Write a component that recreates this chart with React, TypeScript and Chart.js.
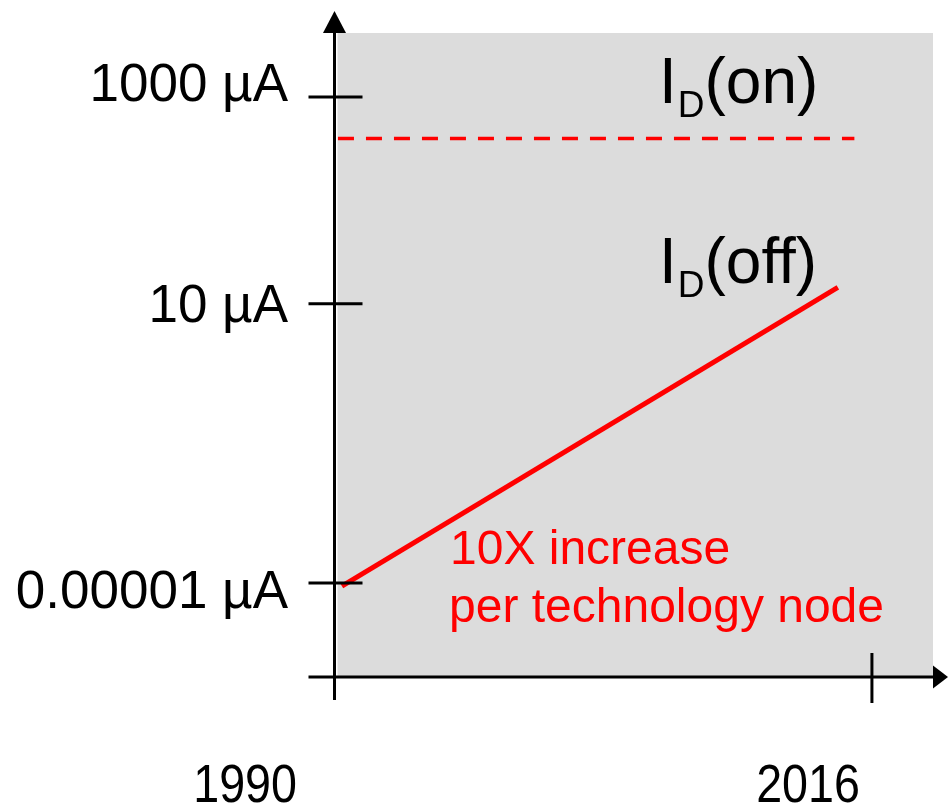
import React, { useEffect, useRef } from "react";
import { Chart, registerables } from "chart.js";

Chart.register(...registerables);

// ---- data ----
// x: years; y: schematic (non-uniform) log-current position, in axis units
const xTickYears = [1990, 2016];
const xTickLabels = ["1990", "2016"];
const yTickLevels = [0, 2.7, 4.7];
const yTickLabels = ["0.00001 µA", "10 µA", "1000 µA"];

const offYears = [1990.43, 2014.4];
const offLevels = [-0.03, 2.86];
const onYears = [1990.24, 2015.2];
const onLevels = [4.3, 4.3];

const annotationLines = ["10X increase", "per technology node"];

const FONT = '"Liberation Sans", Arial, Helvetica, sans-serif';

const drawPlugin = {
  id: "schematicAxes",
  beforeDraw(chart: any) {
    const { ctx, chartArea } = chart;
    ctx.save();
    ctx.fillStyle = "#ffffff";
    ctx.fillRect(0, 0, chart.width, chart.height);
    ctx.fillStyle = "#dcdcdc";
    ctx.fillRect(chartArea.left + 4.5, chartArea.top, chartArea.right - chartArea.left - 4.5, chartArea.bottom - chartArea.top);
    ctx.restore();
  },
  afterDraw(chart: any) {
    const { ctx, chartArea } = chart;
    const xs = chart.scales.x;
    const ys = chart.scales.y;
    const axisX = xs.getPixelForValue(xTickYears[0]) + 1.5;
    const axisY = chartArea.bottom;
    ctx.save();
    ctx.strokeStyle = "#000";
    ctx.fillStyle = "#000";
    ctx.lineWidth = 3;
    ctx.lineCap = "butt";

    // y axis
    ctx.beginPath();
    ctx.moveTo(axisX, axisY + 23);
    ctx.lineTo(axisX, chartArea.top);
    ctx.stroke();
    ctx.beginPath();
    ctx.moveTo(axisX, chartArea.top - 22);
    ctx.lineTo(axisX - 11.5, chartArea.top);
    ctx.lineTo(axisX + 11.5, chartArea.top);
    ctx.closePath();
    ctx.fill();

    // x axis
    ctx.beginPath();
    ctx.moveTo(axisX - 26, axisY);
    ctx.lineTo(chartArea.right, axisY);
    ctx.stroke();
    ctx.beginPath();
    ctx.moveTo(chartArea.right + 15, axisY);
    ctx.lineTo(chartArea.right, axisY - 11.5);
    ctx.lineTo(chartArea.right, axisY + 11.5);
    ctx.closePath();
    ctx.fill();

    // y ticks + labels
    const yLabelBaselineOffsets = [25, 18, 4];
    ctx.font = `53px ${FONT}`;
    ctx.textAlign = "right";
    ctx.textBaseline = "alphabetic";
    yTickLevels.forEach((lv, i) => {
      const py = ys.getPixelForValue(lv);
      ctx.beginPath();
      ctx.moveTo(axisX - 26, py);
      ctx.lineTo(axisX + 28, py);
      ctx.stroke();
      ctx.fillText(yTickLabels[i], 288, py + yLabelBaselineOffsets[i]);
    });

    // x ticks + labels
    const xLabelRightOffsets = [-37, -12];
    xTickYears.forEach((yr, i) => {
      const px = xs.getPixelForValue(yr) + 1;
      if (i > 0) {
        ctx.beginPath();
        ctx.moveTo(px, axisY - 24);
        ctx.lineTo(px, axisY + 26);
        ctx.stroke();
      }
      ctx.save();
      ctx.translate(px + xLabelRightOffsets[i], 802);
      ctx.scale(0.88, 1);
      ctx.font = `53px ${FONT}`;
      ctx.textAlign = "right";
      ctx.fillText(xTickLabels[i], 0, 0);
      ctx.restore();
    });

    // I_D labels
    const drawID = (x: number, baseline: number, suffix: string) => {
      ctx.textAlign = "left";
      ctx.fillStyle = "#000";
      ctx.font = `64px ${FONT}`;
      ctx.fillText("I", x, baseline);
      let cx = x + ctx.measureText("I").width + 1;
      ctx.font = `37px ${FONT}`;
      ctx.fillText("D", cx, baseline + 14);
      cx += ctx.measureText("D").width;
      ctx.font = `64px ${FONT}`;
      ctx.fillText(suffix, cx, baseline);
    };
    drawID(659, 103, "(on)");
    drawID(659, 283, "(off)");

    // red annotation
    ctx.fillStyle = "#ff0000";
    ctx.font = `48px ${FONT}`;
    ctx.textAlign = "left";
    ctx.fillText(annotationLines[0], 450, 564);
    ctx.fillText(annotationLines[1], 449, 622);

    ctx.restore();
  },
};

export default function App() {
  const ref = useRef<HTMLCanvasElement | null>(null);
  useEffect(() => {
    if (!ref.current) return;
    const chart = new Chart(ref.current, {
      type: "line",
      data: {
        datasets: [
          {
            label: "ID(off)",
            data: offYears.map((x, i) => ({ x, y: offLevels[i] })),
            borderColor: "#ff0000",
            borderWidth: 5,
            pointRadius: 0,
            borderCapStyle: "butt",
          },
          {
            label: "ID(on)",
            data: onYears.map((x, i) => ({ x, y: onLevels[i] })),
            borderColor: "#ff0000",
            borderWidth: 3.5,
            borderDash: [16, 12],
            pointRadius: 0,
            borderCapStyle: "butt",
          },
        ],
      },
      options: {
        animation: false,
        responsive: false,
        devicePixelRatio: 1,
        layout: { padding: { left: 333, right: 15, top: 33, bottom: 130 } },
        plugins: { legend: { display: false }, tooltip: { enabled: false } },
        scales: {
          x: { type: "linear", min: 1990, max: 2019, display: false },
          y: { type: "linear", min: -0.91, max: 5.32, display: false },
        },
      },
      plugins: [drawPlugin],
    } as any);
    return () => chart.destroy();
  }, []);
  return (
    <div style={{ position: "fixed", left: 0, top: 0, width: 948, height: 807, background: "#fff" }}>
      <canvas ref={ref} width={948} height={807} />
    </div>
  );
}
